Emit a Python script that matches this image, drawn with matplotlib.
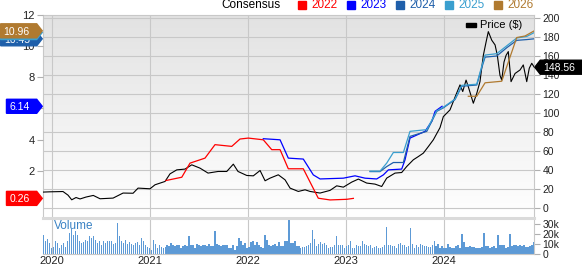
import numpy as np
import matplotlib
matplotlib.use('Agg')
import matplotlib.pyplot as plt
from matplotlib.patches import Polygon, Rectangle
from matplotlib.transforms import IdentityTransform

plt.rcParams['font.family'] = ['Liberation Sans', 'DejaVu Sans']

# price ($), decimal years
price_t = [2019.908, 2019.98, 2020.115, 2020.166, 2020.204, 2020.248, 2020.289, 2020.35, 2020.424,
           2020.493, 2020.626, 2020.728, 2020.830, 2020.881, 2021.003, 2021.054, 2021.156, 2021.207,
           2021.276, 2021.360, 2021.429, 2021.513, 2021.595, 2021.697, 2021.786, 2021.853, 2021.901,
           2021.990, 2022.057, 2022.126, 2022.177, 2022.228, 2022.312, 2022.381, 2022.432, 2022.516,
           2022.585, 2022.636, 2022.738, 2022.840, 2022.908, 2022.976, 2023.061, 2023.129, 2023.214,
           2023.299, 2023.367, 2023.418, 2023.503, 2023.571, 2023.622, 2023.690, 2023.741, 2023.792,
           2023.843, 2023.894, 2023.962, 2023.996, 2024.064, 2024.115, 2024.166, 2024.194, 2024.228,
           2024.251, 2024.302, 2024.337, 2024.370, 2024.404, 2024.432, 2024.455, 2024.490, 2024.524,
           2024.547, 2024.574, 2024.592, 2024.615, 2024.636, 2024.659, 2024.687, 2024.728, 2024.779,
           2024.812, 2024.847, 2024.873, 2024.898, 2024.924]
price_v = [17.2, 17.5, 17.8, 14.0, 9.1, 11.5, 10.0, 12.0, 13.7,
           10.2, 10.9, 16.2, 16.0, 21.4, 20.7, 24.9, 28.4, 36.4,
           40.6, 41.4, 45.9, 42.4, 37.2, 38.9, 38.9, 46.6, 38.9,
           34.7, 34.3, 39.9, 29.1, 31.9, 35.4, 30.1, 21.4, 17.9,
           19.6, 17.9, 16.2, 19.0, 23.8, 22.4, 27.7, 30.9, 26.7,
           25.6, 23.1, 31.9, 37.2, 37.8, 44.1, 51.2, 54.6, 58.2,
           65.1, 72.2, 85.0, 96.6, 103.7, 117.0, 130.0, 123.0, 135.0,
           128.0, 110.7, 121.0, 133.4, 161.0, 175.0, 186.0, 177.0, 172.0,
           161.0, 140.0, 135.0, 154.0, 161.0, 165.0, 133.4, 142.0, 145.7,
           151.0, 133.4, 147.5, 152.7, 148.56]

# consensus EPS by fiscal year
eps_2022_t = [2021.166, 2021.327, 2021.411, 2021.564, 2021.666, 2021.837, 2021.921, 2022.006,
              2022.159, 2022.245, 2022.330, 2022.414, 2022.567, 2022.720, 2022.840, 2023.010, 2023.078]
eps_2022_v = [1.40, 1.61, 2.51, 2.83, 3.69, 3.58, 4.05, 4.11,
              4.00, 3.37, 3.37, 2.15, 2.15, 0.27, 0.16, 0.20, 0.26]
eps_2023_t = [2022.159, 2022.330, 2022.414, 2022.567, 2022.669, 2022.738, 2022.976, 2023.095,
              2023.197, 2023.316, 2023.384, 2023.435, 2023.571, 2023.605, 2023.656, 2023.809,
              2023.878, 2023.912, 2023.983]
eps_2023_v = [4.07, 4.00, 2.83, 2.77, 1.76, 1.50, 1.55, 1.70,
              1.55, 1.50, 1.76, 2.08, 2.13, 2.72, 4.11, 4.54,
              5.18, 5.82, 6.14]
eps_2024_t = [2023.248, 2023.350, 2023.418, 2023.486, 2023.588, 2023.656, 2023.827, 2023.929,
              2023.996, 2024.115, 2024.184, 2024.337, 2024.388, 2024.422, 2024.541, 2024.643,
              2024.745, 2024.847, 2024.924]
eps_2024_v = [1.97, 1.97, 2.29, 2.55, 2.55, 4.22, 4.54, 5.82,
              6.04, 6.57, 7.42, 7.50, 8.60, 9.28, 9.35, 9.88,
              10.35, 10.40, 10.45]
eps_2025_t = eps_2024_t
eps_2025_v = [2.00, 2.00, 2.51, 3.19, 3.19, 4.54, 4.65, 5.85,
              6.08, 6.60, 7.48, 7.55, 8.70, 9.41, 9.50, 10.00,
              10.50, 10.60, 10.85]
eps_2026_t = [2024.251, 2024.337, 2024.422, 2024.592, 2024.745, 2024.830, 2024.924]
eps_2026_v = [6.78, 6.78, 7.64, 7.74, 10.53, 10.63, 10.96]

years = ['2022', '2023', '2024', '2025', '2026']
colors = ['#ff0000', '#0000ff', '#1f5faa', '#3a9fcf', '#b07a30']

# weekly volume (thousands)
volume_k = [19, 12.6, 15, 11, 6, 6.5, 12.6, 11, 6, 8.5, 11, 7, 12.6, 21, 24.5, 19, 23, 19, 12.6, 11,
            12, 14, 12.6, 17.7, 16, 17.7, 14, 11, 13, 9, 12.6, 11, 13, 13, 12.6, 10, 11, 30.6, 17.7, 13,
            11, 14, 10, 12, 10, 9, 11, 12, 9, 16, 13, 8.5, 7, 6, 4, 14, 10, 6, 9, 6.5,
            6, 7, 9, 7.5, 11, 8.5, 7.5, 8.5, 9, 6, 7.5, 8.5, 7.5, 17.7, 8.5, 9, 6, 10, 8.5, 7.5,
            8.5, 9, 7.5, 10, 7.5, 7.5, 23, 10, 8.5, 7.5, 8.5, 9, 8.5, 6, 6, 9, 4, 7.5, 16, 12.6,
            9, 11, 6, 6.5, 12, 12.6, 9, 12, 9, 6.5, 6, 18.7, 14, 9, 7.5, 9, 10, 7.5, 12, 7.5,
            7.5, 12.6, 13, 33.7, 11, 11, 13, 7.5, 7.5, 6, 7, 7, 7.5, 9, 11, 23.5, 15, 7.5, 10, 12,
            10, 11, 8.5, 6, 6.5, 7, 8.5, 17.7, 9, 8.5, 9, 6, 7.5, 9, 13, 6, 6, 8.5, 7.5, 7.5,
            13, 10, 8.5, 7.5, 8.5, 6, 7, 7.5, 6, 6, 7, 9, 27, 9, 8.5, 7.5, 7.5, 6, 10, 11,
            9, 8.5, 6.5, 7.5, 25.5, 10, 6, 9, 7, 10, 9, 7.5, 7.5, 7, 7, 8.5, 12.6, 7.5, 10, 6,
            7.5, 6, 6, 10, 7, 6, 6, 7.5, 8.5, 6, 20, 12, 7, 7, 7.5, 7, 7, 6, 6, 6,
            7, 21, 7.5, 7.5, 6, 7, 7.5, 6, 18.7, 8.5, 9, 8.5, 6, 7, 20, 7.5, 9, 9, 7.5, 9,
            7.5, 9, 7, 7, 7.5, 8.5, 12]

x_ticks = [2020, 2021, 2022, 2023, 2024]
xlim = (2019.908, 2024.924)
grid_c = '#c8c8c8'

fig = plt.figure(figsize=(5.82, 2.64), dpi=100)
ax_price = fig.add_axes([0.0734, 0.178, 0.8446, 0.767])
ax_vol = fig.add_axes([0.0734, 0.038, 0.8446, 0.136])
ax_eps = ax_price.twinx()

# gradient background
grad = np.linspace(0, 1, 256).reshape(-1, 1)
ax_price.imshow(grad, cmap=matplotlib.colors.LinearSegmentedColormap.from_list('g', ['#e2e2e2', '#ffffff']),
                extent=[0, 1, 0, 1], transform=ax_price.transAxes, aspect='auto', zorder=0,
                origin='upper')

ax_price.plot(price_t, price_v, color='black', lw=0.8, zorder=3)
ax_price.set_xlim(xlim)
ax_price.set_ylim(-9, 204)
ax_price.set_yticks(range(0, 201, 20))
ax_price.yaxis.tick_right()
ax_price.set_xticks(x_ticks)
ax_price.tick_params(axis='x', length=0, labelbottom=False)
ax_price.tick_params(axis='y', length=4, color='#b0b0b0', labelsize=7.5, pad=2, labelcolor='#222222')
ax_price.grid(True, color=grid_c, lw=0.8, zorder=1)
ax_price.set_axisbelow(True)
for s in ax_price.spines.values():
    s.set_color(grid_c)
ax_price.spines['bottom'].set_visible(False)

ax_eps.yaxis.tick_left()
ax_eps.set_ylim(-0.93, 12.0)
ax_eps.set_xlim(xlim)
ax_eps.set_yticks([2, 4, 6, 8, 10, 12])
ax_eps.tick_params(axis='y', length=4, color='#b0b0b0', labelsize=8, pad=2, labelcolor='#222222')
for s in ax_eps.spines.values():
    s.set_visible(False)

series_t = [eps_2022_t, eps_2023_t, eps_2024_t, eps_2025_t, eps_2026_t]
series_v = [eps_2022_v, eps_2023_v, eps_2024_v, eps_2025_v, eps_2026_v]
for t, v, c in zip(series_t, series_v, colors):
    ax_eps.plot(t, v, color=c, lw=0.9)

# price legend
ax_eps.add_patch(Rectangle((0.862, 0.94), 0.02, 0.016, transform=ax_eps.transAxes,
                           color='black', clip_on=False))
ax_eps.text(0.89, 0.948, 'Price ($)', transform=ax_eps.transAxes, fontsize=8, va='center')

# volume
n = len(volume_k)
vol_x = np.linspace(xlim[0] + 0.01, xlim[1] - 0.004, n)
ax_vol.bar(vol_x, volume_k, width=(vol_x[1] - vol_x[0]) * 0.75, color='#5d9ad6', lw=0, zorder=2)
ax_vol.set_xlim(xlim)
ax_vol.set_ylim(0, 35.7)
ax_vol.set_yticks([0, 10, 20, 30])
ax_vol.set_yticklabels(['0', '10k', '20k', '30k'])
ax_vol.yaxis.tick_right()
ax_vol.tick_params(axis='y', length=4, color='#b0b0b0', labelsize=7.5, pad=2, labelcolor='#222222')
ax_vol.set_xticks(x_ticks)
ax_vol.set_xticklabels([str(y) for y in x_ticks])
ax_vol.tick_params(axis='x', length=0, labelsize=8, pad=1.5, labelcolor='#222222')
ax_vol.grid(True, axis='x', color=grid_c, lw=0.8, zorder=1)
ax_vol.set_axisbelow(True)
for s in ax_vol.spines.values():
    s.set_color(grid_c)
ax_vol.spines['left'].set_visible(False)
ax_vol.spines['top'].set_color('#dadada')
ax_vol.spines['top'].set_linewidth(2.2)
ax_vol.text(0.022, 0.78, 'Volume', transform=ax_vol.transAxes, fontsize=8.5, color='#3a82c4', va='center')

# header legend
fig.text(280 / 582, 0.98, 'Consensus', ha='right', va='center', fontsize=8.5)
for i, (yr, c) in enumerate(zip(years, colors)):
    x0 = 297.7 + i * 49.1
    fig.add_artist(Rectangle((x0 / 582, 1 - 8.6 / 264), 8 / 582, 7.6 / 264,
                             transform=fig.transFigure, color=c))
    fig.text((x0 + 13.3) / 582, 0.982, yr, color=c, fontsize=8.5, va='center')

# value badges
renderer = fig.canvas.get_renderer()
z = 10
for v, c in zip(series_v, colors):
    val = v[-1]
    xd, yd = ax_eps.transData.transform((xlim[0], val))
    txt = fig.text(xd - 13, yd, f'{val:.2f}', color='white', fontsize=7.5, ha='right',
                   va='center_baseline', transform=IdentityTransform(), zorder=z + 1)
    bb = txt.get_window_extent(renderer)
    left = bb.x0 - 3
    h = 7
    fig.add_artist(Polygon([(xd - 0.5, yd), (xd - 6, yd + h), (left, yd + h), (left, yd - h), (xd - 6, yd - h)],
                           closed=True, color=c, transform=IdentityTransform(), zorder=z))
    z += 2

last_p = price_v[-1]
xd, yd = ax_price.transData.transform((xlim[1], last_p))
fig.add_artist(Polygon([(xd + 0.5, yd), (xd + 6, yd + 7), (582, yd + 7), (582, yd - 7), (xd + 6, yd - 7)],
                       closed=True, color='black', transform=IdentityTransform(), zorder=z))
fig.text(xd + 9, yd, f'{last_p:.2f}', color='white', fontsize=7.5, ha='left', va='center_baseline',
         transform=IdentityTransform(), zorder=z + 1)

fig.savefig('out.png', dpi=100)
